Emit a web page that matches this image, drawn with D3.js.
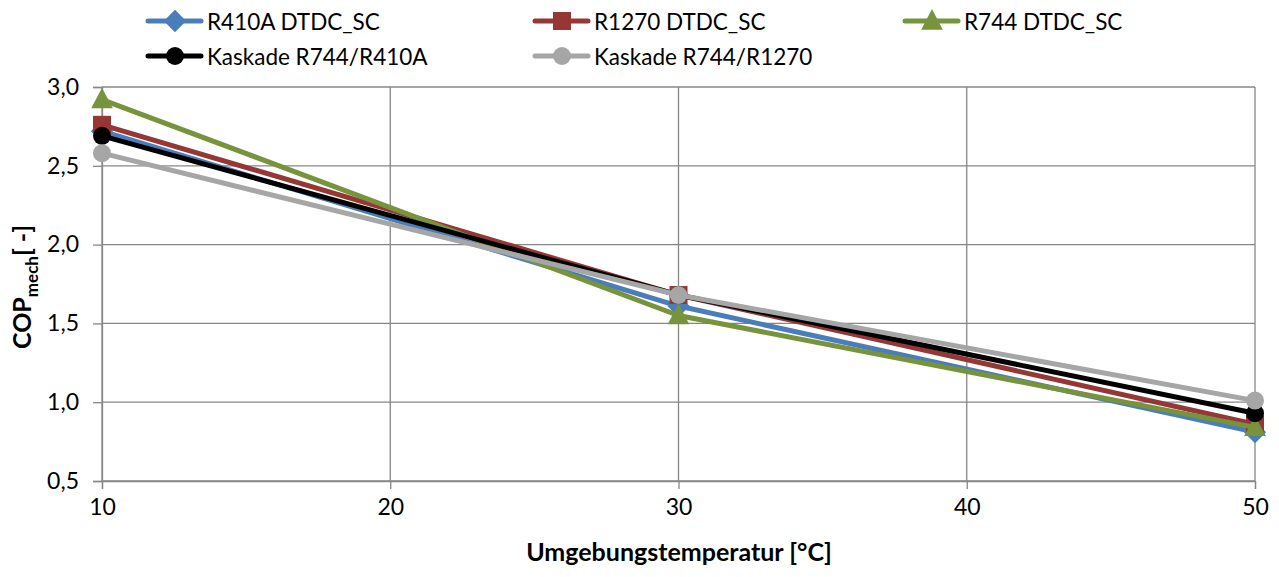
<!DOCTYPE html>
<html><head><meta charset="utf-8">
<script src="https://cdn.jsdelivr.net/npm/d3@7"></script>
<style>
html,body{margin:0;padding:0;background:#fff;}
svg text{font-family:Lato,"Open Sans",sans-serif;fill:#000;}
</style></head><body>
<svg id="c" width="1279" height="577"></svg>
<script>
const xValues = [10, 30, 50];
const seriesNames = ["R410A DTDC_SC", "R1270 DTDC_SC", "R744 DTDC_SC", "Kaskade R744/R410A", "Kaskade R744/R1270"];
const r410a = [2.72, 1.61, 0.81];
const r1270 = [2.76, 1.68, 0.86];
const r744 = [2.92, 1.55, 0.84];
const kaskadeR410A = [2.69, 1.68, 0.93];
const kaskadeR1270 = [2.58, 1.68, 1.01];
const xTicks = [10, 20, 30, 40, 50];
const yTicks = [0.5, 1.0, 1.5, 2.0, 2.5, 3.0];
const colors = ["#4A7EBB", "#953735", "#77933C", "#000000", "#A6A6A6"];
const shapes = ["diamond", "square", "triangle", "circle", "circle"];

const series = [r410a, r1270, r744, kaskadeR410A, kaskadeR1270].map((v, i) => ({
  name: seriesNames[i], values: v, color: colors[i], shape: shapes[i]
}));

const svg = d3.select("#c");
const L = 102, R = 1255, T = 87, B = 481;
const x = d3.scaleLinear().domain([10, 50]).range([L, R]);
const y = d3.scaleLinear().domain([0.5, 3.0]).range([B, T]);
const fmt = d => d3.format(".1f")(d).replace(".", ",");

// gridlines
svg.append("g").selectAll("line").data(yTicks).join("line")
  .attr("x1", L).attr("x2", R).attr("y1", d => y(d)).attr("y2", d => y(d))
  .attr("stroke", "#878787").attr("stroke-width", 1.3);
svg.append("g").selectAll("line").data(xTicks).join("line")
  .attr("y1", T).attr("y2", B).attr("x1", d => x(d)).attr("x2", d => x(d))
  .attr("stroke", "#878787").attr("stroke-width", 1.3);

// axes
const yAxis = svg.append("g").attr("transform", `translate(${L},0)`)
  .call(d3.axisLeft(y).tickValues(yTicks).tickFormat(fmt).tickSize(9).tickPadding(14));
const xAxis = svg.append("g").attr("transform", `translate(0,${B})`)
  .call(d3.axisBottom(x).tickValues(xTicks).tickSize(8).tickPadding(10));
[yAxis, xAxis].forEach(a => {
  a.select(".domain").attr("stroke", "#878787").attr("stroke-width", 1.3);
  a.selectAll(".tick line").attr("stroke", "#878787").attr("stroke-width", 1.3);
  a.selectAll("text").style("font-size", "23px").style("font-family", "Lato, sans-serif").attr("fill", "#000");
});

function marker(g, shape, color, size) {
  if (shape === "diamond") {
    const s = size * 0.62;
    g.append("path").attr("d", `M0,${-s}L${s},0L0,${s}L${-s},0Z`).attr("fill", color);
  } else if (shape === "square") {
    g.append("rect").attr("x", -size/2).attr("y", -size/2).attr("width", size).attr("height", size).attr("fill", color);
  } else if (shape === "triangle") {
    const s = size * 0.6;
    g.append("path").attr("d", `M0,${-s*1.1}L${s},${s*0.8}L${-s},${s*0.8}Z`).attr("fill", color);
  } else {
    g.append("circle").attr("r", size/2).attr("fill", color);
  }
}

const line = d3.line().x((d, i) => x(xValues[i])).y(d => y(d));
series.forEach(s => {
  const g = svg.append("g");
  g.append("path").attr("d", line(s.values)).attr("fill", "none")
    .attr("stroke", s.color).attr("stroke-width", 5).attr("stroke-linejoin", "round").attr("stroke-linecap", "round");
  s.values.forEach((v, i) => {
    const m = g.append("g").attr("transform", `translate(${x(xValues[i])},${y(v)})`);
    marker(m, s.shape, s.color, 18);
  });
});

// legend
const legendPos = [[148, 21], [535, 21], [905, 21], [148, 56], [535, 56]];
series.forEach((s, i) => {
  const [lx, ly] = legendPos[i];
  const g = svg.append("g").attr("transform", `translate(${lx},${ly})`);
  g.append("line").attr("x1", 0).attr("x2", 53).attr("y1", 0).attr("y2", 0)
    .attr("stroke", s.color).attr("stroke-width", 5).attr("stroke-linecap", "round");
  const m = g.append("g").attr("transform", "translate(27,0)");
  marker(m, s.shape, s.color, 18);
  g.append("text").attr("x", 59).attr("y", 1).attr("dy", "0.35em")
    .style("font-size", "22.5px").text(s.name);
});

// axis titles
svg.append("text").attr("x", 679).attr("y", 561).attr("text-anchor", "middle")
  .style("font-size", "25px").style("font-weight", "bold").text("Umgebungstemperatur [°C]");
const yt = svg.append("text").attr("transform", "translate(31,287) rotate(-90)")
  .attr("text-anchor", "middle").style("font-size", "25px").style("font-weight", "bold");
yt.append("tspan").text("COP");
yt.append("tspan").attr("dy", 7).style("font-size", "17px").text("mech");
yt.append("tspan").attr("dy", -7).text("[ -]");
</script>
</body></html>
